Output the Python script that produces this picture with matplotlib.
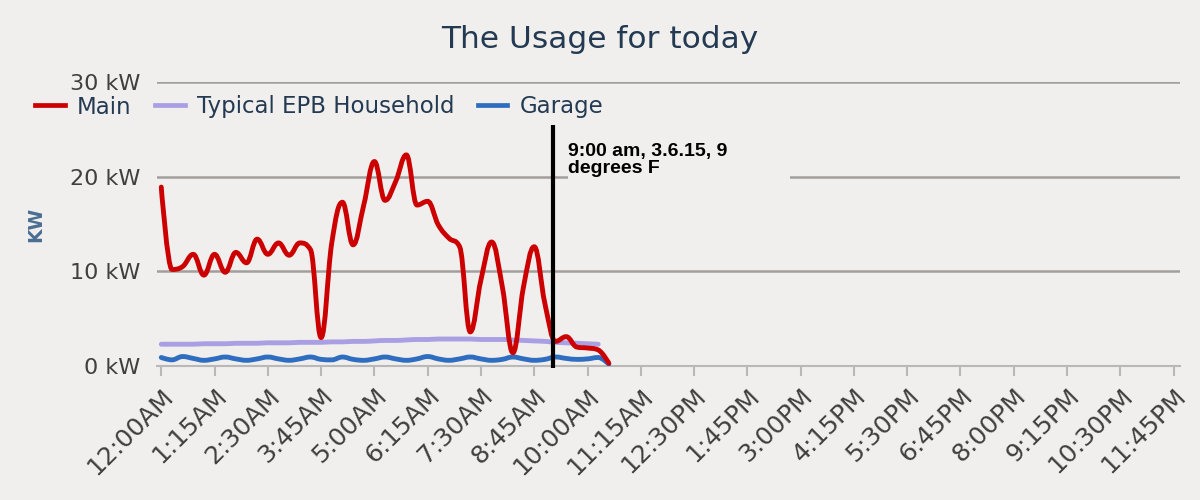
import numpy as np
import matplotlib
matplotlib.use("Agg")
import matplotlib.pyplot as plt
from matplotlib.path import Path
from matplotlib.patches import PathPatch, Rectangle
from matplotlib.lines import Line2D

# readings every 15 minutes from midnight (kW)
main_kw = [18.9, 10.2, 10.5, 11.8, 9.6, 11.8, 9.9, 12.0, 10.9, 13.4, 11.8, 13.0,
           11.7, 13.0, 12.3, 3.0, 13.0, 17.3, 12.8, 17.0, 21.6, 17.5, 19.5, 22.3,
           17.0, 17.4, 14.9, 13.5, 12.6, 3.6, 9.1, 13.1, 8.4, 1.4, 8.4, 12.6,
           6.6, 2.6, 3.1, 2.0, 1.9, 1.7, 0.3]
typical_kw = [2.3, 2.3, 2.3, 2.3, 2.35, 2.35, 2.35, 2.4, 2.4, 2.4, 2.45, 2.45,
              2.45, 2.5, 2.5, 2.5, 2.55, 2.55, 2.6, 2.6, 2.65, 2.7, 2.7, 2.75,
              2.8, 2.8, 2.85, 2.85, 2.85, 2.85, 2.8, 2.8, 2.8, 2.75, 2.7, 2.65,
              2.6, 2.5, 2.45, 2.4, 2.35, 2.3]
garage_kw = [0.9, 0.65, 1.0, 0.8, 0.6, 0.75, 0.95, 0.75, 0.6, 0.75, 0.95, 0.75,
             0.6, 0.75, 0.95, 0.7, 0.65, 0.95, 0.7, 0.6, 0.75, 0.95, 0.75, 0.6,
             0.75, 1.0, 0.75, 0.6, 0.75, 0.95, 0.75, 0.6, 0.7, 0.95, 0.75, 0.6,
             0.7, 0.95, 0.8, 0.7, 0.75, 0.9, 0.2]
series_names = ["Main", "Typical EPB Household", "Garage"]

tick_labels = ["12:00AM", "1:15AM", "2:30AM", "3:45AM", "5:00AM", "6:15AM",
               "7:30AM", "8:45AM", "10:00AM", "11:15AM", "12:30PM", "1:45PM",
               "3:00PM", "4:15PM", "5:30PM", "6:45PM", "8:00PM", "9:15PM",
               "10:30PM", "11:45PM"]
y_ticks = [0, 10, 20, 30]
y_tick_labels = ["0 kW", "10 kW", "20 kW", "30 kW"]

note_minute = 552          # hand drawn marker line
note_text = "9:00 am, 3.6.15, 9\ndegrees F"

bg = "#f0efed"
colors = ["#cc0000", "#a99fe3", "#2e6dbf"]


def spline_path(xs, ys, smoothing=1.5):
    # highcharts style spline as cubic bezier segments
    n = len(xs)
    left = [(xs[0], ys[0])] * n
    right = [(xs[0], ys[0])] * n
    for i in range(n):
        if i == 0 or i == n - 1:
            left[i] = right[i] = (xs[i], ys[i])
            continue
        d = smoothing + 1
        lx = (smoothing * xs[i] + xs[i - 1]) / d
        ly = (smoothing * ys[i] + ys[i - 1]) / d
        rx = (smoothing * xs[i] + xs[i + 1]) / d
        ry = (smoothing * ys[i] + ys[i + 1]) / d
        corr = (ry - ly) * (rx - xs[i]) / (rx - lx) + ys[i] - ry
        ly += corr
        ry += corr
        y0, y1, y2 = ys[i - 1], ys[i], ys[i + 1]
        if ly > y0 and ly > y1:
            ly = max(y0, y1); ry = 2 * y1 - ly
        elif ly < y0 and ly < y1:
            ly = min(y0, y1); ry = 2 * y1 - ly
        if ry > y2 and ry > y1:
            ry = max(y2, y1); ly = 2 * y1 - ry
        elif ry < y2 and ry < y1:
            ry = min(y2, y1); ly = 2 * y1 - ry
        left[i] = (lx, ly)
        right[i] = (rx, ry)
    verts = [(xs[0], ys[0])]
    codes = [Path.MOVETO]
    for i in range(1, n):
        verts += [right[i - 1], left[i], (xs[i], ys[i])]
        codes += [Path.CURVE4] * 3
    return Path(verts, codes)


fig = plt.figure(figsize=(12, 5), dpi=100, facecolor=bg)
ax = fig.add_axes([157 / 1200, 134 / 500, 1023 / 1200, 284 / 500], facecolor=bg)

all_series = [main_kw, typical_kw, garage_kw]
zorders = [4, 2, 3]
for vals, c, z in zip(all_series, colors, zorders):
    mins = 15 * np.arange(len(vals))
    p = spline_path(list(mins), list(vals))
    ax.add_patch(PathPatch(p, facecolor="none", edgecolor=c, lw=3.5,
                           capstyle="round", joinstyle="round", zorder=z))

ax.set_xlim(-6, 1434)
ax.set_ylim(0, 30)
ax.set_xticks(75 * np.arange(len(tick_labels)))
ax.set_xticklabels(tick_labels, rotation=45, ha="right", va="top",
                   rotation_mode="anchor", fontsize=18, color="#3f3f3f")
ax.set_yticks(y_ticks)
ax.set_yticklabels(y_tick_labels, fontsize=16, color="#3f3f3f")
ax.tick_params(axis="y", length=0, pad=12)
ax.tick_params(axis="x", length=7, width=1.5, color="#b8b8b8", pad=6)
ax.grid(axis="y", color="#a39e9b", lw=1.8)
ax.set_axisbelow(True)
for s in ["top", "right", "left"]:
    ax.spines[s].set_visible(False)
ax.spines["bottom"].set_color("#b8b8b8")
ax.spines["bottom"].set_linewidth(1.5)
ax.spines["bottom"].set_zorder(1)

# pasted note: box hides part of the 20 kW line
ax.add_patch(Rectangle((573, 19.3), 312, 4.8, facecolor=bg, edgecolor="none", zorder=1))
ax.vlines(note_minute, -0.2, 25.5, color="black", lw=3, zorder=6, clip_on=False)
ax.text(573, 23.6, note_text, ha="left", va="top", fontsize=14, fontweight="bold",
        family="Liberation Sans", linespacing=1.05, zorder=7)

ax.set_ylabel("KW", fontsize=13.5, fontweight="bold", color="#4a6d92", labelpad=18)

fig.text(0.5, 0.92, "The Usage for today", ha="center", va="center",
         fontsize=22.5, color="#233a52")

handles = [Line2D([], [], color=c, lw=3.4) for c in colors]
fig.legend(handles, series_names, loc="center left", bbox_to_anchor=(0.029, 0.786),
           ncol=3, frameon=False, fontsize=16.5, handlelength=1.3, handletextpad=0.55,
           columnspacing=1.0, borderpad=0, borderaxespad=0, labelcolor="#233a52")

fig.savefig("out.png", dpi=100, facecolor=bg)
